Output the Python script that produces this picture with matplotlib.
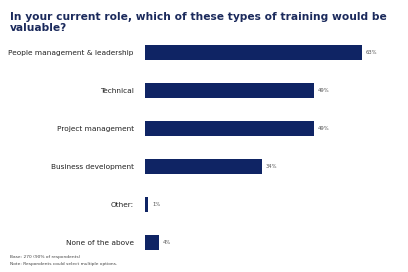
import matplotlib.pyplot as plt

categories = ["People management & leadership", "Technical", "Project management",
              "Business development", "Other:", "None of the above"]
values = [63, 49, 49, 34, 1, 4]
value_labels = ["63%", "49%", "49%", "34%", "1%", "4%"]

navy = "#0f2464"

fig = plt.figure(figsize=(4.08, 2.72), dpi=100)
ax = fig.add_axes([0.355, 0.04, 0.591, 0.835])

y = list(range(len(categories)))
ax.barh(y, values, height=0.4, color=navy)
ax.set_ylim(len(categories) - 0.5, -0.5)
ax.set_xlim(0, 70)
ax.set_yticks(y)
ax.set_yticklabels(categories, fontsize=5.3, color="#222222")
ax.tick_params(axis="y", length=0, pad=8)
ax.set_xticks([])
for s in ax.spines.values():
    s.set_visible(False)

for yi, v, lab in zip(y, values, value_labels):
    ax.text(v + 1.2, yi, lab, va="center", ha="left", fontsize=3.8, color="#555555")

fig.text(0.025, 0.955, "In your current role, which of these types of training would be\nvaluable?",
         ha="left", va="top", fontsize=7.7, fontweight="bold", color="#1b2a5c", linespacing=1.1)

fig.text(0.025, 0.055, "Base: 270 (90% of respondents)", fontsize=3.2, color="#444444", ha="left", va="center")
fig.text(0.025, 0.028, "Note: Respondents could select multiple options.", fontsize=3.2, color="#444444",
         ha="left", va="center")

fig.savefig("out.png", dpi=100)
